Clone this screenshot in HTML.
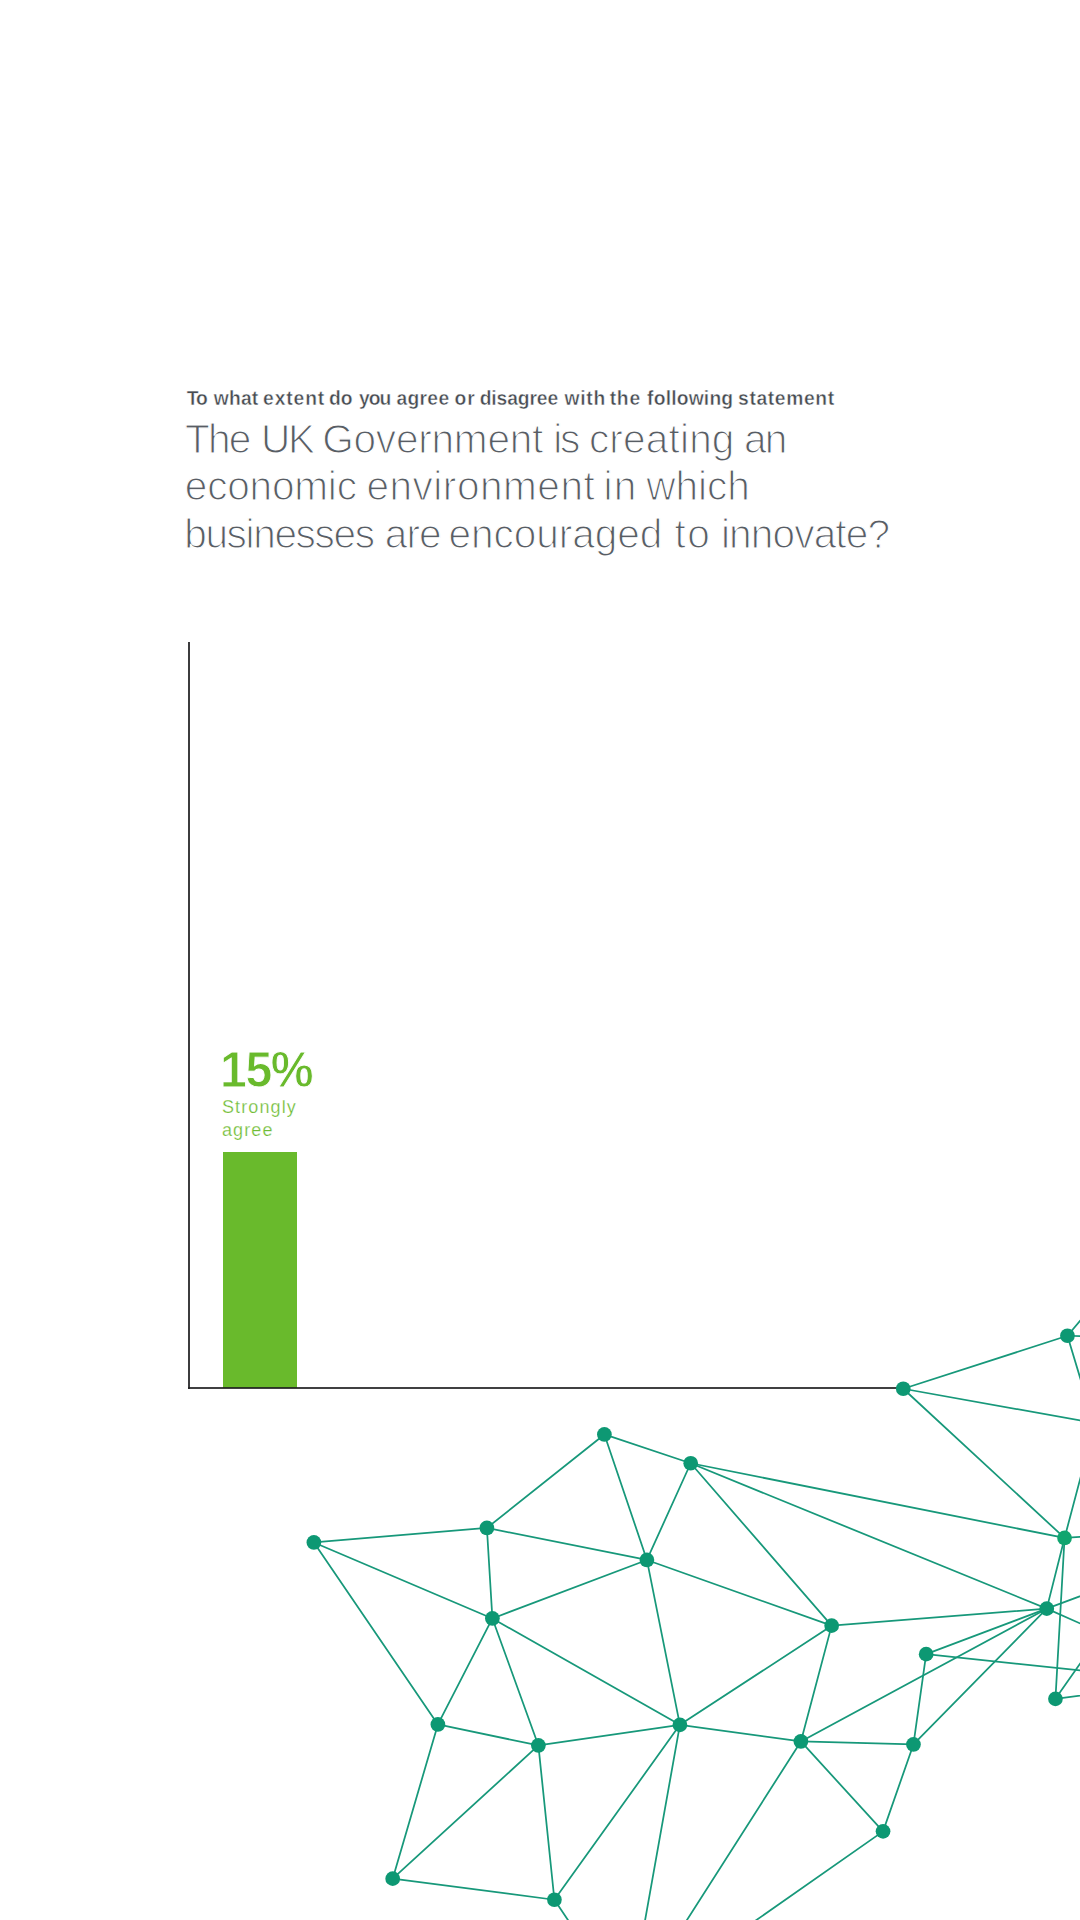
<!DOCTYPE html>
<html lang="en"><head><meta charset="utf-8"><title>Survey</title>
<style>
html,body{margin:0;padding:0;background:#fff;}
body{width:1080px;height:1920px;position:relative;overflow:hidden;font-family:"Liberation Sans",sans-serif;}
.net{position:absolute;left:0;top:0;}
.abs{position:absolute;white-space:nowrap;transform-origin:0 0;}
.ln{position:absolute;left:0;width:1080px;white-space:nowrap;}
.ln span{position:absolute;top:0;}
.sub{top:387.7px;height:22px;font-size:19.3px;line-height:22px;font-weight:bold;color:#474c52;letter-spacing:0.255px;-webkit-text-stroke:0.42px #fff;}
.h{height:48px;font-size:40.6px;line-height:48px;color:#585d64;-webkit-text-stroke:1.2px #fff;}
.h1{top:414.6px;letter-spacing:-0.67px;} .h2{top:462.3px;letter-spacing:-0.05px;} .h3{top:510px;letter-spacing:-0.64px}
.axis-v{position:absolute;left:188px;top:642px;width:2px;height:747px;background:#3c3c3e;}
.axis-h{position:absolute;left:188px;top:1387px;width:716px;height:2px;background:rgba(30,30,32,.85);}
.bar{position:absolute;left:223px;top:1152px;width:74px;height:236px;background:#69ba2c;}
.pct{left:219.5px;top:1041.6px;font-size:50.6px;line-height:56px;font-weight:bold;color:#69ba2c;letter-spacing:-1.5px;-webkit-text-stroke:0.9px #fff;transform:scaleX(0.953);}
.lab{left:222px;font-size:18px;line-height:23px;color:#6fbc34;letter-spacing:1.1px;-webkit-text-stroke:0.25px #fff;}
.l1{top:1095.6px;} .l2{top:1118.5px;}
</style></head><body>
<div class="ln sub"><span style="left:186.8px;letter-spacing:-1.20px">To</span> <span style="left:213.8px;letter-spacing:0.16px">what</span> <span style="left:263.1px;letter-spacing:0.88px">extent</span> <span style="left:328.9px;letter-spacing:0.13px">do</span> <span style="left:359.1px;letter-spacing:-1.00px">you</span> <span style="left:396.5px;letter-spacing:0.29px">agree</span> <span style="left:454.4px;letter-spacing:1.13px">or</span> <span style="left:479.7px;letter-spacing:-0.12px">disagree</span> <span style="left:564.6px;letter-spacing:0.71px">with</span> <span style="left:609.7px;letter-spacing:0.75px">the</span> <span style="left:647.1px;letter-spacing:0.18px">following</span> <span style="left:738.1px;letter-spacing:0.62px">statement</span></div>
<div class="ln h h1"><span style="left:184.9px;letter-spacing:-1.69px">The</span> <span style="left:261.1px;letter-spacing:-2.50px">UK</span> <span style="left:322.2px;letter-spacing:-0.24px">Government</span> <span style="left:553.2px;letter-spacing:-2.31px">is</span> <span style="left:588.9px;letter-spacing:0.17px">creating</span> <span style="left:743.9px;letter-spacing:-1.71px">an</span></div>
<div class="ln h h2"><span style="left:184.8px;letter-spacing:-0.22px">economic</span> <span style="left:366.4px;letter-spacing:0.51px">environment</span> <span style="left:603.6px;letter-spacing:1.02px">in</span> <span style="left:646.3px;letter-spacing:-0.06px">which</span></div>
<div class="ln h h3"><span style="left:184.2px;letter-spacing:-1.36px">businesses</span> <span style="left:384.8px;letter-spacing:-0.88px">are</span> <span style="left:448.6px;letter-spacing:-0.08px">encouraged</span> <span style="left:674.4px;letter-spacing:1.49px">to</span> <span style="left:720.9px;letter-spacing:-0.85px">innovate?</span></div>
<div class="bar"></div>
<div class="axis-v"></div>
<div class="axis-h"></div>
<svg class="net" width="1080" height="1920" viewBox="0 0 1080 1920">
<g stroke="#17987a" stroke-width="1.75" stroke-linecap="round" fill="none">
<line x1="604.4" y1="1434.45" x2="690.7" y2="1463.25"/>
<line x1="604.4" y1="1434.45" x2="486.9" y2="1527.95"/>
<line x1="604.4" y1="1434.45" x2="646.9" y2="1559.95"/>
<line x1="690.7" y1="1463.25" x2="646.9" y2="1559.95"/>
<line x1="690.7" y1="1463.25" x2="1064.55" y2="1537.95"/>
<line x1="690.7" y1="1463.25" x2="1046.75" y2="1608.65"/>
<line x1="690.7" y1="1463.25" x2="831.65" y2="1625.65"/>
<line x1="486.9" y1="1527.95" x2="313.9" y2="1542.45"/>
<line x1="486.9" y1="1527.95" x2="646.9" y2="1559.95"/>
<line x1="486.9" y1="1527.95" x2="492.4" y2="1618.45"/>
<line x1="313.9" y1="1542.45" x2="492.4" y2="1618.45"/>
<line x1="313.9" y1="1542.45" x2="437.9" y2="1724.45"/>
<line x1="646.9" y1="1559.95" x2="492.4" y2="1618.45"/>
<line x1="646.9" y1="1559.95" x2="679.9" y2="1724.85"/>
<line x1="646.9" y1="1559.95" x2="831.65" y2="1625.65"/>
<line x1="492.4" y1="1618.45" x2="437.9" y2="1724.45"/>
<line x1="492.4" y1="1618.45" x2="538.4" y2="1745.45"/>
<line x1="492.4" y1="1618.45" x2="679.9" y2="1724.85"/>
<line x1="437.9" y1="1724.45" x2="538.4" y2="1745.45"/>
<line x1="437.9" y1="1724.45" x2="392.7" y2="1878.65"/>
<line x1="538.4" y1="1745.45" x2="679.9" y2="1724.85"/>
<line x1="538.4" y1="1745.45" x2="392.7" y2="1878.65"/>
<line x1="538.4" y1="1745.45" x2="554.4" y2="1899.75"/>
<line x1="679.9" y1="1724.85" x2="554.4" y2="1899.75"/>
<line x1="679.9" y1="1724.85" x2="800.9" y2="1741.45"/>
<line x1="679.9" y1="1724.85" x2="831.65" y2="1625.65"/>
<line x1="679.9" y1="1724.85" x2="638" y2="1960"/>
<line x1="800.9" y1="1741.45" x2="831.65" y2="1625.65"/>
<line x1="800.9" y1="1741.45" x2="1046.75" y2="1608.65"/>
<line x1="800.9" y1="1741.45" x2="913.45" y2="1744.45"/>
<line x1="800.9" y1="1741.45" x2="883.05" y2="1831.35"/>
<line x1="800.9" y1="1741.45" x2="671" y2="1945"/>
<line x1="392.7" y1="1878.65" x2="554.4" y2="1899.75"/>
<line x1="554.4" y1="1899.75" x2="578" y2="1935"/>
<line x1="1067.45" y1="1335.75" x2="903.25" y2="1388.75"/>
<line x1="1067.45" y1="1335.75" x2="1095" y2="1303.2"/>
<line x1="1067.45" y1="1335.75" x2="1100" y2="1337"/>
<line x1="1067.45" y1="1335.75" x2="1090" y2="1410.5"/>
<line x1="903.25" y1="1388.75" x2="1100" y2="1424"/>
<line x1="903.25" y1="1388.75" x2="1064.55" y2="1537.95"/>
<line x1="1064.55" y1="1537.95" x2="1090" y2="1442"/>
<line x1="1064.55" y1="1537.95" x2="1100" y2="1535.7"/>
<line x1="1064.55" y1="1537.95" x2="1046.75" y2="1608.65"/>
<line x1="1064.55" y1="1537.95" x2="1055.45" y2="1698.85"/>
<line x1="1046.75" y1="1608.65" x2="831.65" y2="1625.65"/>
<line x1="1046.75" y1="1608.65" x2="926.15" y2="1654.15"/>
<line x1="1046.75" y1="1608.65" x2="913.45" y2="1744.45"/>
<line x1="1046.75" y1="1608.65" x2="1100" y2="1588.8"/>
<line x1="1046.75" y1="1608.65" x2="1100" y2="1632.3"/>
<line x1="926.15" y1="1654.15" x2="913.45" y2="1744.45"/>
<line x1="926.15" y1="1654.15" x2="1100" y2="1672.6"/>
<line x1="1055.45" y1="1698.85" x2="1090" y2="1649.5"/>
<line x1="1055.45" y1="1698.85" x2="1100" y2="1693"/>
<line x1="913.45" y1="1744.45" x2="883.05" y2="1831.35"/>
<line x1="883.05" y1="1831.35" x2="735" y2="1935"/>
</g>
<g fill="#0d9873">
<circle cx="604.4" cy="1434.45" r="7.35"/>
<circle cx="690.7" cy="1463.25" r="7.35"/>
<circle cx="486.9" cy="1527.95" r="7.35"/>
<circle cx="313.9" cy="1542.45" r="7.35"/>
<circle cx="646.9" cy="1559.95" r="7.35"/>
<circle cx="492.4" cy="1618.45" r="7.35"/>
<circle cx="437.9" cy="1724.45" r="7.35"/>
<circle cx="538.4" cy="1745.45" r="7.35"/>
<circle cx="679.9" cy="1724.85" r="7.35"/>
<circle cx="800.9" cy="1741.45" r="7.35"/>
<circle cx="392.7" cy="1878.65" r="7.35"/>
<circle cx="554.4" cy="1899.75" r="7.35"/>
<circle cx="1067.45" cy="1335.75" r="7.35"/>
<circle cx="903.25" cy="1388.75" r="7.35"/>
<circle cx="1064.55" cy="1537.95" r="7.35" fill="#10a56f"/>
<circle cx="1046.75" cy="1608.65" r="7.35"/>
<circle cx="831.65" cy="1625.65" r="7.35"/>
<circle cx="926.15" cy="1654.15" r="7.35"/>
<circle cx="1055.45" cy="1698.85" r="7.35"/>
<circle cx="913.45" cy="1744.45" r="7.35"/>
<circle cx="883.05" cy="1831.35" r="7.35"/>
</g>
</svg>
<div class="abs pct">15%</div>
<div class="abs lab l1">Strongly</div>
<div class="abs lab l2">agree</div>
</body></html>
